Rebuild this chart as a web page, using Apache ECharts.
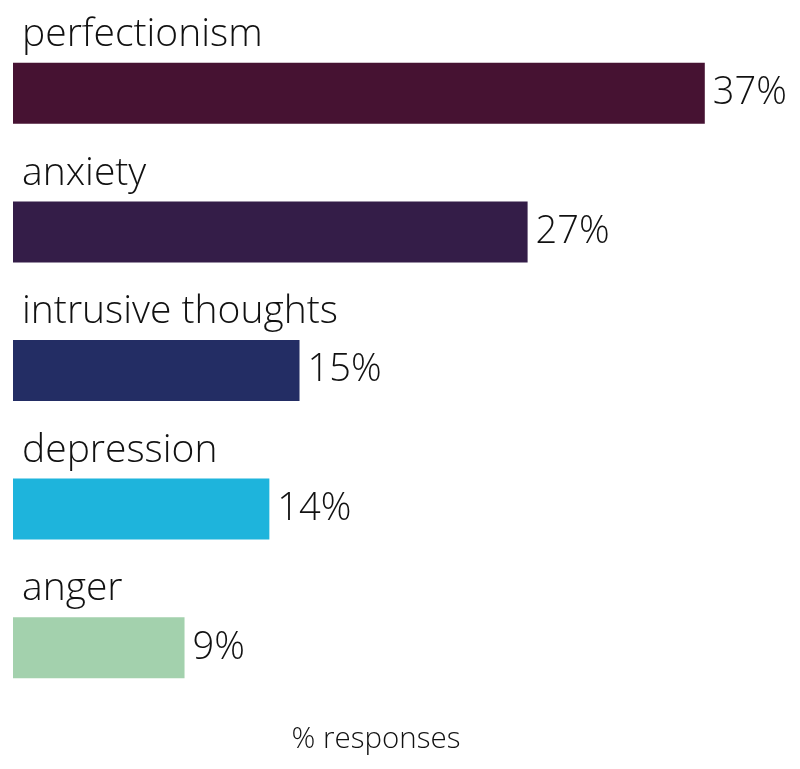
<!DOCTYPE html>
<html>
<head>
<meta charset="utf-8">
<script src="https://cdn.jsdelivr.net/npm/echarts@6/dist/echarts.min.js"></script>
<style>
  html, body { margin: 0; padding: 0; background: #fff; }
  #chart { width: 800px; height: 769px; }
</style>
</head>
<body>
<div id="chart"></div>
<script>
// categories and shares (% responses), bar lengths
const categories = ["perfectionism", "anxiety", "intrusive thoughts", "depression", "anger"];
const shares = [36.7, 27.3, 15.2, 13.6, 9.1];
const shareLabels = ["37%", "27%", "15%", "14%", "9%"];
const barColors = ["#461232", "#341d48", "#232d64", "#1eb4dc", "#a3d1ad"];

const FONT = "Open Sans";

const chart = echarts.init(document.getElementById("chart"), null, { renderer: "canvas" });

const option = {
  animation: false,
  grid: { left: 13, right: 33, top: 24, bottom: 52, containLabel: false },
  xAxis: {
    type: "value",
    min: 0,
    max: 40,
    axisLine: { show: false },
    axisTick: { show: false },
    axisLabel: { show: false },
    splitLine: { show: false },
    name: "% responses",
    nameLocation: "middle",
    nameGap: 8,
    nameTextStyle: { fontFamily: FONT, fontWeight: 300, fontSize: 29.5, color: "#111", padding: [0, 28, 0, 0] }
  },
  yAxis: {
    type: "category",
    data: categories,
    inverse: true,
    axisLine: { show: false },
    axisTick: { show: false },
    axisLabel: { show: false }
  },
  series: [
    {
      // bars with value labels
      type: "bar",
      barWidth: 61,
      data: shares.map((v, i) => ({ value: v, itemStyle: { color: barColors[i] } })),
      label: {
        show: true,
        position: "right",
        distance: 8,
        formatter: p => shareLabels[p.dataIndex],
        fontFamily: FONT,
        fontWeight: 300,
        fontSize: 38,
        color: "#111"
      }
    },
    {
      // invisible overlay carrying the category names above each bar
      type: "bar",
      barWidth: 61,
      barGap: "-100%",
      silent: true,
      data: shares,
      itemStyle: { color: "transparent" },
      label: {
        show: true,
        position: [9, -28],
        verticalAlign: "middle",
        formatter: p => p.name,
        fontFamily: FONT,
        fontWeight: 300,
        fontSize: 39,
        color: "#111"
      }
    }
  ]
};

chart.setOption(option);
</script>
</body>
</html>
